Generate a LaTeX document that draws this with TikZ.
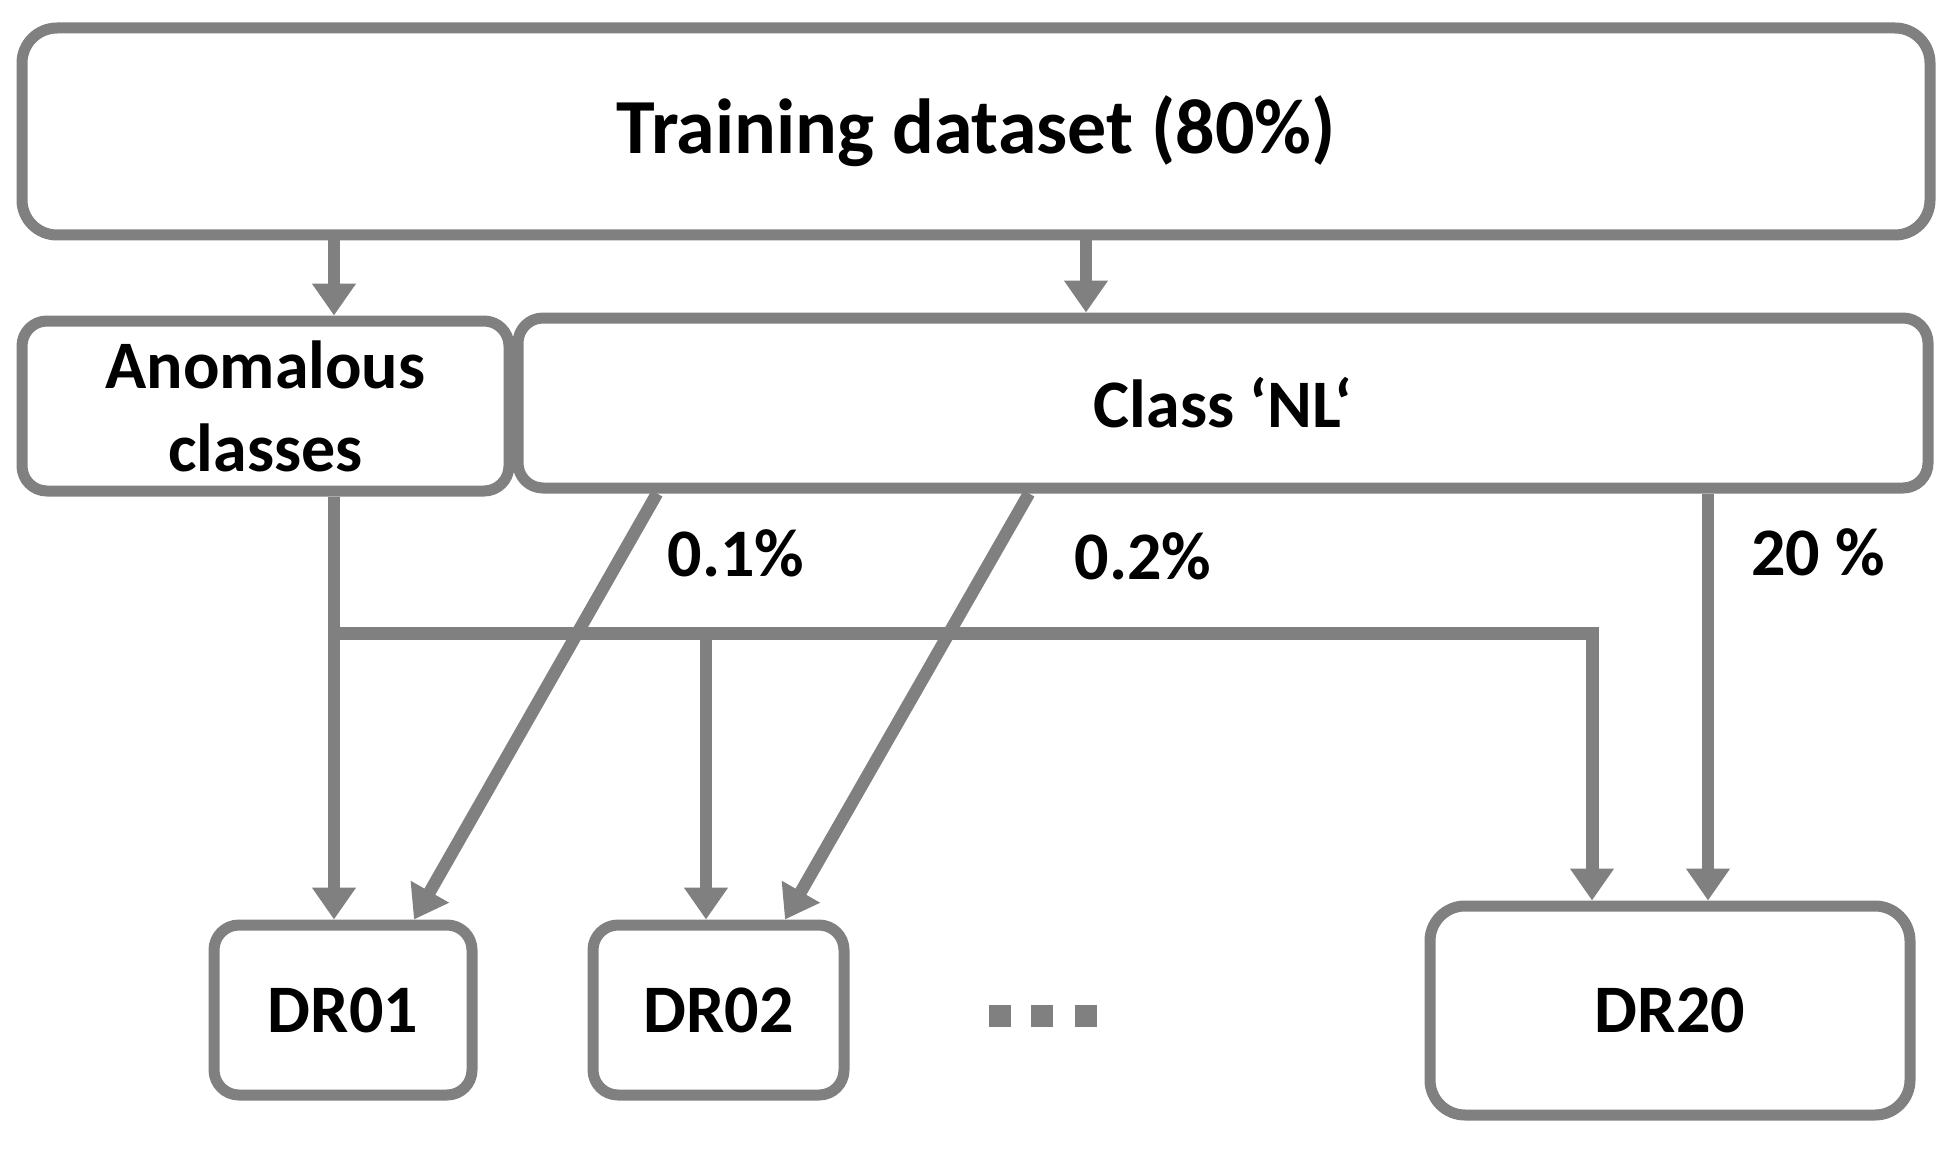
\documentclass[tikz,border=0pt]{standalone}
\usepackage{fontspec}
\setmainfont{Carlito}
\usetikzlibrary{arrows.meta}
\definecolor{lg}{HTML}{808080}
\begin{document}
\begin{tikzpicture}[x=1pt,y=-1pt,
  box/.style={draw=lg,line width=11pt,rounded corners=#1,fill=white,inner sep=0pt,font=\fontsize{68}{83}\selectfont\bfseries,align=center},
  box/.default=25pt,
  arr/.style={draw=lg,line width=12.5pt,-{Triangle[width=42pt,length=32pt]}},
  lin/.style={draw=lg,line width=13pt},
  lbl/.style={inner sep=0pt,font=\fontsize{68}{83}\selectfont\bfseries},
  dotsq/.style={fill=lg,inner sep=0pt,minimum width=22pt,minimum height=22pt}]
\useasboundingbox (0,0) rectangle (1953,1150);
\fill[white] (0,0) rectangle (1953,1150);
% boxes
\node[box=35pt,minimum width=1908pt,minimum height=207pt,font=\fontsize{78}{94}\selectfont\bfseries] (top) at (976,131.5) {Training dataset (80\%)};
\node[box,minimum width=487pt,minimum height=170pt] (anom) at (265.5,406) {Anomalous\\classes};
\node[box,minimum width=1410pt,minimum height=170pt] (nl) at (1223,403) {Class ‘NL‘};
\node[box,minimum width=258pt,minimum height=170pt] (dr01) at (343,1010) {DR01};
\node[box,minimum width=251pt,minimum height=170pt] (dr02) at (718.5,1010) {DR02};
\node[box=35pt,minimum width=480pt,minimum height=209pt] (dr20) at (1670,1010.5) {DR20};
% dots
\node[dotsq] (d1) at (1000,1016) {};
\node[dotsq] (d2) at (1042,1016) {};
\node[dotsq] (d3) at (1086,1016) {};
% helper coordinates
\coordinate (xa) at (334,0);
\coordinate (xt) at (1086,0);
\coordinate (j) at (334,633);
\coordinate (xb) at (1592,0);
\coordinate (xc) at (706,0);
\coordinate (s1) at (657,0);
\coordinate (e1) at (414,0);
\coordinate (s2) at (1029,0);
\coordinate (e2) at (785,0);
\coordinate (xv) at (1708,0);
% connectors
\draw[arr] (top.south -| xa) -- (anom.north -| xa);
\draw[arr] (top.south -| xt) -- (nl.north -| xt);
\draw[arr] (anom.south -| xa) -- (dr01.north -| xa);
\draw[arr] (nl.south -| s1) -- (dr01.north -| e1);
\draw[arr] (nl.south -| s2) -- (dr02.north -| e2);
\draw[arr] (nl.south -| xv) -- (dr20.north -| xv);
\draw[lin,-{Triangle[width=42pt,length=32pt]}] (j) -| (dr20.north -| xb);
\draw[arr] (j -| xc) -- (dr02.north -| xc);
% labels
\node[lbl] (p1) at (736,553) {0.1\%};
\node[lbl] (p2) at (1143,556) {0.2\%};
\node[lbl] (p3) at (1818,552) {20 \%};
\end{tikzpicture}
\end{document}
